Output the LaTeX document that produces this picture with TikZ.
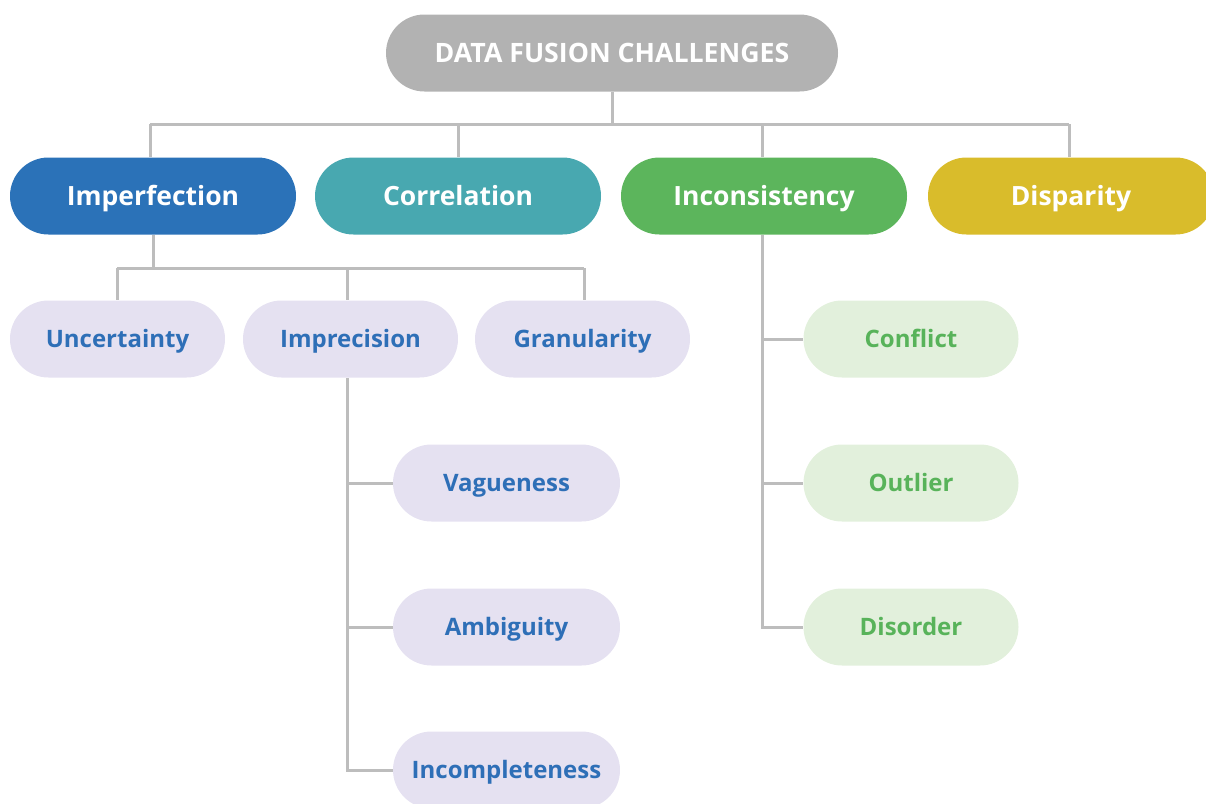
\documentclass[tikz,border=0pt]{standalone}
\usepackage{fontspec}
\setmainfont{Open Sans}
\definecolor{topg}{HTML}{B2B2B2}
\definecolor{cblue}{HTML}{2B72B8}
\definecolor{cteal}{HTML}{48A8B0}
\definecolor{cgreen}{HTML}{5CB55C}
\definecolor{cyellow}{HTML}{D9BC2B}
\definecolor{lav}{HTML}{E5E1F1}
\definecolor{lgreen}{HTML}{E2F0DC}
\definecolor{linec}{HTML}{BDBDBD}
\definecolor{tblue}{HTML}{2E6FB7}
\definecolor{tgreen}{HTML}{58B35A}
\tikzset{
  pill/.style={rectangle, rounded corners=38.5pt, minimum height=77pt, inner sep=0pt, text depth=0pt, font=\bfseries},
  topbox/.style={pill, fill=topg, text=white, minimum width=452pt, text height=19pt, font=\bfseries\fontsize{26.7}{32}\selectfont},
  mainbox/.style={pill, text=white, minimum width=286pt, text height=19pt, font=\bfseries\fontsize{26.5}{32}\selectfont},
  subbox/.style={pill, fill=lav, text=tblue, minimum width=215pt, text height=17pt, font=\bfseries\fontsize{24}{28}\selectfont},
  gbox/.style={pill, fill=lgreen, text=tgreen, minimum width=215pt, text height=17pt, font=\bfseries\fontsize{24}{28}\selectfont},
  vbox/.style={pill, fill=lav, text=tblue, minimum width=227pt, text height=17pt, font=\bfseries\fontsize{24}{28}\selectfont},
  conn/.style={draw=linec, line width=3pt}
}
\begin{document}
\begin{tikzpicture}[x=1pt,y=-1pt]
\useasboundingbox (0,0) rectangle (1206,803);
\clip (0,0) rectangle (1206,803);
% nodes
\node[topbox] (top) at (612,53) {DATA FUSION CHALLENGES};
\node[mainbox, fill=cblue] (imp) at (153,196) {Imperfection};
\node[mainbox, fill=cteal] (cor) at (458,196) {Correlation};
\node[mainbox, fill=cgreen] (inc) at (764,196) {Inconsistency};
\node[mainbox, fill=cyellow] (dis) at (1071,196) {Disparity};
\node[subbox] (unc) at (117.5,339) {Uncertainty};
\node[subbox] (impr) at (350.5,339) {Imprecision};
\node[subbox] (gran) at (582.5,339) {Granularity};
\node[vbox] (vag) at (506.5,483) {Vagueness};
\node[vbox] (amb) at (506.5,627) {Ambiguity};
\node[vbox] (incp) at (506.5,770) {Incompleteness};
\node[gbox] (conf) at (911,339) {Conflict};
\node[gbox] (outl) at (911,483) {Outlier};
\node[gbox] (diso) at (911,627) {Disorder};
% connectors
\coordinate (h1) at (612,124);
\coordinate (hl) at (150,124);
\coordinate (hr) at (1069,124);
\coordinate (h2) at (458,124);
\coordinate (h3) at (762,124);
\draw[conn] (top.south) -- (h1);
\draw[conn] (hl) -- (hr);
\draw[conn] (hl) -- (150,157);
\draw[conn] (h2) -- (cor.north);
\draw[conn] (h3) -- (762,157);
\draw[conn] (hr) -- (1069,157);
\coordinate (s1) at (153,268);
\coordinate (sl) at (117,268);
\coordinate (sm) at (347,268);
\coordinate (sr) at (584,268);
\draw[conn] (imp.south) -- (s1);
\draw[conn] (sl) -- (sr);
\draw[conn] (sl) -- (117,300);
\draw[conn] (sm) -- (347,300);
\draw[conn] (sr) -- (584,300);
\draw[conn] (347,378) -- (347,770) -- (incp.west);
\draw[conn] (347,483) -- (vag.west);
\draw[conn] (347,627) -- (amb.west);
\draw[conn] (762,235) -- (762,627) -- (diso.west);
\draw[conn] (762,339) -- (conf.west);
\draw[conn] (762,483) -- (outl.west);
\end{tikzpicture}
\end{document}
